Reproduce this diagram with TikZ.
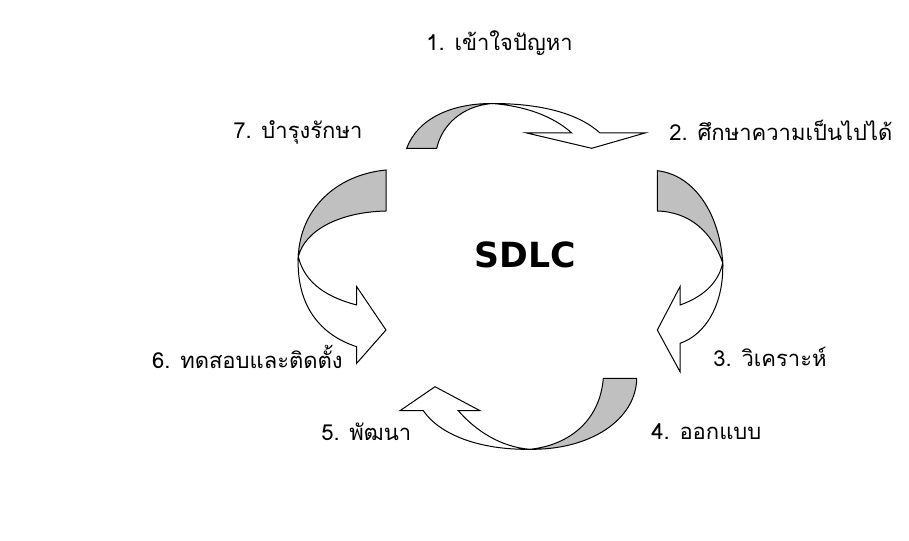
\documentclass[tikz,border=0pt]{standalone}
\usepackage{fontspec}
\newfontfamily\thaifont[Script=Thai]{Loma}
\newfontfamily\sdlcfont{DejaVu Sans}
\usepackage{tikz}

\begin{document}
\begin{tikzpicture}[x=0.75pt,y=0.75pt,yscale=-1,xscale=1]
\tikzset{backpart/.style={draw=black,line width=0.75,fill={rgb, 255:red, 192; green, 192; blue, 192 }},
  frontpart/.style={draw=black,line width=0.75,fill=white,line join=miter},
  steplabel/.style={inner sep=0.75pt,font=\thaifont\fontsize{16.5}{19}\selectfont}}
\path (0,0) rectangle (909,541); %set diagram to 909 x 541

%Curved Arrow top [id:top]
\draw [backpart] (406.7,148.3) .. controls (418,118) and (452,103.5) .. (492,103.5) .. controls (462,106) and (442,125) .. (436.7,148.3) -- cycle ;
\draw [frontpart] (492,103.5) .. controls (540,103.5) and (578,113) .. (600,133) -- (645,133) -- (591.7,148.3) -- (526.7,133) -- (571.7,133) .. controls (553,116) and (525,106) .. (492,103.5) -- cycle ;
%Curved Arrow right [id:right]
\draw [backpart] (657.3,170.7) .. controls (695,175) and (720,215) .. (722.7,263) .. controls (712,232) and (690,212) .. (657.3,211) -- cycle ;
\draw [frontpart] (722.7,263) .. controls (724,305) and (705,335) .. (680,343.3) -- (680,371.7) -- (657.3,330) -- (680,286.7) -- (680,305) .. controls (700,298) and (718,285) .. (722.7,263) -- cycle ;
%Curved Arrow bottom [id:bottom]
\draw [backpart] (636.7,378.3) .. controls (636,420) and (590,450) .. (530,449.3) .. controls (570,445) and (600,420) .. (603.3,378.3) -- cycle ;
\draw [frontpart] (530,449.3) .. controls (480,450) and (440,435) .. (423.3,410.7) -- (400,410.7) -- (435,386.7) -- (480,410.7) -- (458.3,410.7) .. controls (475,430) and (500,447) .. (530,449.3) -- cycle ;
%Curved Arrow left [id:left]
\draw [backpart] (386,170) .. controls (335,175) and (300,210) .. (298.3,256.7) .. controls (305,230) and (340,212) .. (386,211) -- cycle ;
\draw [frontpart] (298.3,256.7) .. controls (296,305) and (320,335) .. (356.7,346.7) -- (356.7,363.3) -- (386,330) -- (356.7,286.7) -- (356.7,305) .. controls (330,298) and (305,285) .. (298.3,256.7) -- cycle ;

% Text Node
\draw (525,255) node (sdlc) [inner sep=0.75pt] {\sdlcfont\bfseries\fontsize{26}{30}\selectfont SDLC};
% Text Node
\draw (425,43) node (step1) [anchor=west][steplabel] {1. เข้าใจปัญหา};
% Text Node
\draw (668,130) node (step2) [anchor=west][steplabel] {2. ศึกษาความเป็นไปได้};
% Text Node
\draw (712,357) node (step3) [anchor=west][steplabel] {3. วิเคราะห์};
% Text Node
\draw (650,432) node (step4) [anchor=west][steplabel] {4. ออกแบบ};
% Text Node
\draw (320,432) node (step5) [anchor=west][steplabel] {5. พัฒนา};
% Text Node
\draw (344,357) node (step6) [anchor=east][steplabel] {6. ทดสอบและติดตั้ง};
% Text Node
\draw (232,132) node (step7) [anchor=west][steplabel] {7. บำรุงรักษา};

\end{tikzpicture}
\end{document}
